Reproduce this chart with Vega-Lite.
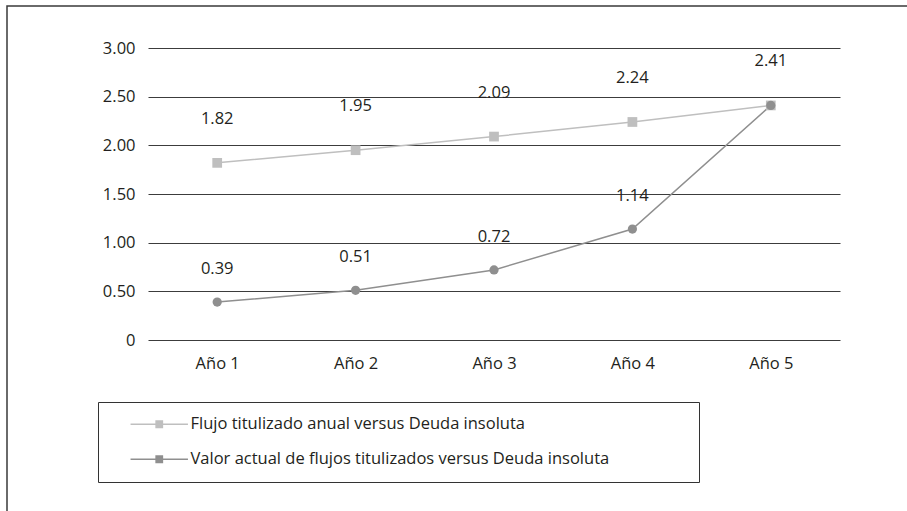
{
  "$schema": "https://vega.github.io/schema/vega-lite/v6.json",
  "width": 910,
  "height": 515,
  "autosize": {"type": "none"},
  "padding": {"left": 7, "top": 6, "right": -10, "bottom": -10},
  "background": "white",
  "config": {
    "view": {"stroke": "#3a3a3a", "strokeWidth": 1.5},
    "font": "Open Sans"
  },
  "data": {
    "values": [
      {"periodo": "Año 1", "serie": "Flujo titulizado anual versus Deuda insoluta", "valor": 1.82},
      {"periodo": "Año 2", "serie": "Flujo titulizado anual versus Deuda insoluta", "valor": 1.95},
      {"periodo": "Año 3", "serie": "Flujo titulizado anual versus Deuda insoluta", "valor": 2.09},
      {"periodo": "Año 4", "serie": "Flujo titulizado anual versus Deuda insoluta", "valor": 2.24},
      {"periodo": "Año 5", "serie": "Flujo titulizado anual versus Deuda insoluta", "valor": 2.41},
      {"periodo": "Año 1", "serie": "Valor actual de flujos titulizados versus Deuda insoluta", "valor": 0.39},
      {"periodo": "Año 2", "serie": "Valor actual de flujos titulizados versus Deuda insoluta", "valor": 0.51},
      {"periodo": "Año 3", "serie": "Valor actual de flujos titulizados versus Deuda insoluta", "valor": 0.72},
      {"periodo": "Año 4", "serie": "Valor actual de flujos titulizados versus Deuda insoluta", "valor": 1.14},
      {"periodo": "Año 5", "serie": "Valor actual de flujos titulizados versus Deuda insoluta", "valor": 2.41}
    ]
  },
  "encoding": {
    "x": {
      "field": "periodo",
      "type": "ordinal",
      "sort": null,
      "scale": {"type": "point", "padding": 0.5, "range": [141, 833]},
      "axis": {
        "title": null,
        "orient": "bottom",
        "offset": -181,
        "domain": false,
        "ticks": false,
        "grid": false,
        "labelAngle": 0,
        "labelPadding": 15,
        "labelFontSize": 16.5,
        "labelColor": "#231f20"
      }
    },
    "y": {
      "field": "valor",
      "type": "quantitative",
      "scale": {"domain": [0, 3], "range": [334, 42]},
      "axis": {
        "title": null,
        "orient": "left",
        "offset": -141,
        "domain": false,
        "ticks": false,
        "values": [0, 0.5, 1, 1.5, 2, 2.5, 3],
        "labelExpr": "datum.value == 0 ? '0' : format(datum.value, '.2f')",
        "labelPadding": 13,
        "labelFontSize": 16.5,
        "labelColor": "#231f20",
        "grid": true,
        "gridColor": "#3c3c3c",
        "gridWidth": 1.2
      }
    },
    "color": {
      "field": "serie",
      "type": "nominal",
      "sort": null,
      "scale": {
        "domain": ["Flujo titulizado anual versus Deuda insoluta", "Valor actual de flujos titulizados versus Deuda insoluta"],
        "range": ["#bfbfbf", "#8f8f8f"]
      },
      "legend": {
        "title": ".",
        "titleOrient": "right",
        "titleOpacity": 0,
        "titlePadding": 71,
        "titleFontSize": 16.5,
        "orient": "none",
        "legendX": 91,
        "legendY": 396,
        "direction": "vertical",
        "strokeColor": "#333",
        "fillColor": "white",
        "padding": 14,
        "rowPadding": 18,
        "symbolType": "M-4.1,0H4.1M-0.45,-0.45H0.45V0.45H-0.45Z",
        "symbolSize": 196,
        "symbolStrokeWidth": 1.5,
        "symbolOffset": 39,
        "labelOffset": 23,
        "labelFontSize": 16.5,
        "labelColor": "#231f20",
        "labelLimit": 0
      }
    }
  },
  "layer": [
    {"mark": {"type": "line", "strokeWidth": 1.5}},
    {
      "transform": [{"filter": "datum.serie == 'Flujo titulizado anual versus Deuda insoluta'"}],
      "mark": {"type": "point", "shape": "square", "filled": true, "opacity": 1, "size": 95}
    },
    {
      "transform": [{"filter": "datum.serie == 'Valor actual de flujos titulizados versus Deuda insoluta'"}],
      "mark": {"type": "point", "shape": "circle", "filled": true, "opacity": 1, "size": 85}
    },
    {
      "transform": [{"filter": "datum.serie == 'Flujo titulizado anual versus Deuda insoluta'"}],
      "mark": {"type": "text", "dy": -44, "fontSize": 16.5, "baseline": "middle"},
      "encoding": {
        "text": {"field": "valor", "type": "quantitative", "format": ".2f"},
        "color": {"value": "#231f20"}
      }
    },
    {
      "transform": [{"filter": "datum.serie == 'Valor actual de flujos titulizados versus Deuda insoluta' && datum.periodo != 'Año 5'"}],
      "mark": {"type": "text", "dy": -33, "fontSize": 16.5, "baseline": "middle"},
      "encoding": {
        "text": {"field": "valor", "type": "quantitative", "format": ".2f"},
        "color": {"value": "#231f20"}
      }
    }
  ]
}
